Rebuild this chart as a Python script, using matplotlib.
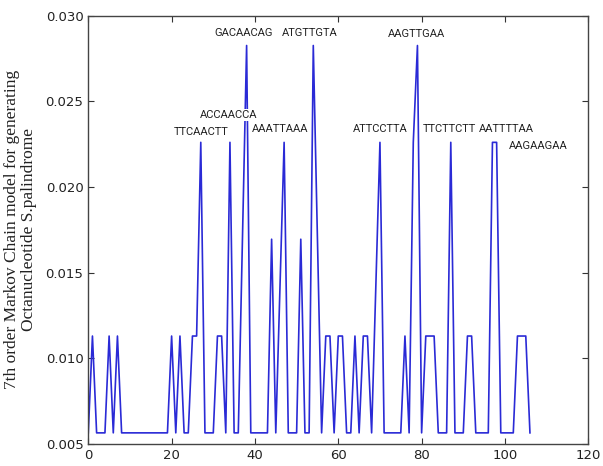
import matplotlib
matplotlib.use("Agg")
import matplotlib.pyplot as plt

positions = list(range(107))
probabilities = [
    0.00565, 0.0113, 0.00565, 0.00565, 0.00565, 0.0113, 0.00565, 0.0113, 0.00565, 0.00565,
    0.00565, 0.00565, 0.00565, 0.00565, 0.00565, 0.00565, 0.00565, 0.00565, 0.00565, 0.00565,
    0.0113, 0.00565, 0.0113, 0.00565, 0.00565, 0.0113, 0.0113, 0.0226, 0.00565, 0.00565,
    0.00565, 0.0113, 0.0113, 0.00565, 0.0226, 0.00565, 0.00565, 0.01695, 0.02825, 0.00565,
    0.00565, 0.00565, 0.00565, 0.00565, 0.01695, 0.00565, 0.0141, 0.0226, 0.00565, 0.00565,
    0.00565, 0.01695, 0.00565, 0.00565, 0.02825, 0.01695, 0.00565, 0.0113, 0.0113, 0.00565,
    0.0113, 0.0113, 0.00565, 0.00565, 0.0113, 0.00565, 0.0113, 0.0113, 0.00565, 0.0141,
    0.0226, 0.00565, 0.00565, 0.00565, 0.00565, 0.00565, 0.0113, 0.00565, 0.0226, 0.02825,
    0.00565, 0.0113, 0.0113, 0.0113, 0.00565, 0.00565, 0.00565, 0.0226, 0.00565, 0.00565,
    0.00565, 0.0113, 0.0113, 0.00565, 0.00565, 0.00565, 0.00565, 0.0226, 0.0226, 0.00565,
    0.00565, 0.00565, 0.00565, 0.0113, 0.0113, 0.0113, 0.00565,
]

label_texts = ["TTCAACTT", "ACCAACCA", "GACAACAG", "AAATTAAA", "ATGTTGTA",
               "ATTCCTTA", "AAGTTGAA", "TTCTTCTT", "AATTTTAA", "AAGAAGAA"]
label_x = [27.0, 33.8, 37.4, 46.1, 53.2, 70.0, 78.7, 86.7, 100.3, 108.0]
label_y = [0.0232, 0.0242, 0.0290, 0.0234, 0.0290, 0.0234, 0.0289, 0.0234, 0.0234, 0.0224]

x_ticks = [0, 20, 40, 60, 80, 100, 120]
y_ticks = [0.005, 0.010, 0.015, 0.020, 0.025, 0.030]
y_tick_labels = ["0.005", "0.010", "0.015", "0.020", "0.025", "0.030"]

fig = plt.figure(figsize=(6.03, 4.66), dpi=100)
ax = fig.add_axes([0.1464, 0.0472, 0.8292, 0.9195])

ax.plot(positions, probabilities, color="#2a2ad6", linewidth=1.2)

for t, x, y in zip(label_texts, label_x, label_y):
    ax.text(x, y, t, ha="center", va="center", fontsize=8,
            family=["Roboto", "DejaVu Sans"], color="#222222",
            bbox=dict(facecolor="white", edgecolor="none", pad=0.5), zorder=3)

ax.set_xlim(0, 120)
ax.set_ylim(0.005, 0.030)
ax.set_xticks(x_ticks)
ax.set_yticks(y_ticks)
ax.set_yticklabels(y_tick_labels)
ax.tick_params(direction="in", top=True, right=True, length=4, labelsize=9.5,
               colors="#333333", labelcolor="#222222")
for s in ax.spines.values():
    s.set_color("#444444")
    s.set_linewidth(1.0)

ax.set_ylabel("7th order Markov Chain model for generating\nOctanucleotide S.palindrome",
              family="Liberation Serif", fontsize=12.5, color="#222222", labelpad=6,
              linespacing=1.1)

fig.savefig("out.png", dpi=100)
